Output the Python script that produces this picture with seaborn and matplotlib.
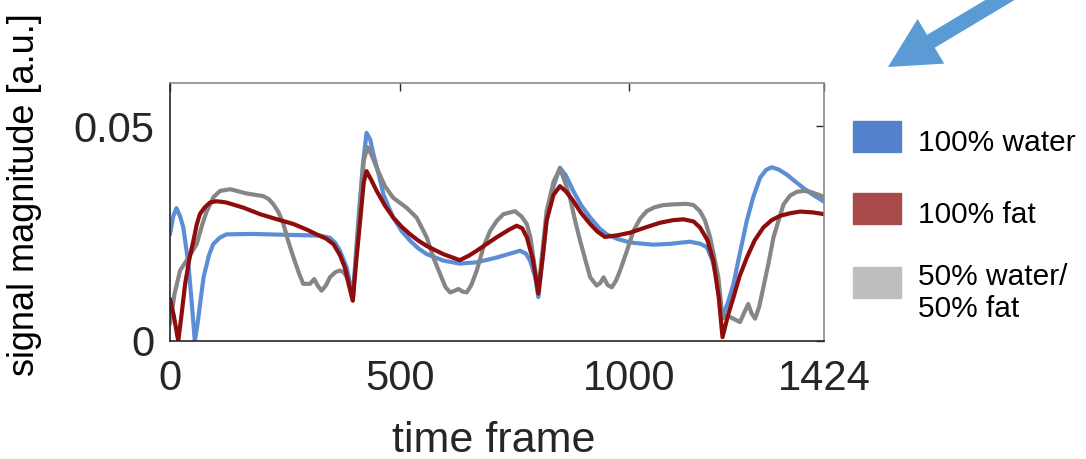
import seaborn as sns
import matplotlib.pyplot as plt
import pandas as pd
from matplotlib.patches import Rectangle, FancyArrow

# values
water_t = [0, 7, 14, 22, 29, 40, 48, 54, 60, 73, 85, 94, 108, 123, 180, 250, 327, 348, 360, 370, 385, 398,
           410, 420, 428, 436, 443, 455, 465, 486, 505, 523, 540, 559, 595, 631, 668, 711, 740, 762, 775,
           784, 795, 802, 812, 820, 835, 849, 862, 878, 895, 915, 935, 951, 975, 1002, 1052, 1090, 1132,
           1155, 1169, 1180, 1190, 1203, 1215, 1227, 1240, 1256, 1270, 1285, 1298, 1310, 1325, 1343, 1360,
           1379, 1400, 1424]
water_v = [0.0248, 0.029, 0.0309, 0.029, 0.0264, 0.018, 0.008, 0.0, 0.004, 0.0148, 0.020, 0.0225, 0.024,
           0.0248, 0.0249, 0.0247, 0.0245, 0.024, 0.0228, 0.021, 0.017, 0.0102,
           0.028, 0.041, 0.0484, 0.0468, 0.0434, 0.0385, 0.034, 0.0287, 0.0255, 0.0233, 0.0216, 0.0202,
           0.0187, 0.018, 0.0183, 0.0194, 0.0203, 0.021, 0.0203,
           0.0187, 0.015, 0.0102, 0.020, 0.028, 0.036, 0.0403, 0.0385, 0.0349, 0.0316, 0.0287, 0.0262,
           0.0248, 0.0237, 0.0229, 0.0224, 0.0226, 0.0231,
           0.0226, 0.0218, 0.019, 0.0148, 0.0056, 0.009, 0.0133, 0.020, 0.028, 0.0335, 0.038, 0.0398,
           0.0404, 0.0399, 0.0387, 0.0372,
           0.0356, 0.034, 0.0324]

fat_t = [0, 8, 18, 25, 33, 42, 51, 58, 65, 75, 87, 100, 110, 123, 160, 196, 230, 269, 300, 319, 340, 356,
         370, 381, 398, 405, 414, 422, 428, 438, 450, 468, 486, 505, 523, 540, 559, 595, 631, 650, 668,
         690, 711, 740, 755, 767, 777, 790, 802, 812, 820, 835, 849, 862, 878, 895, 915, 930, 947, 975,
         1002, 1035, 1067, 1095, 1118, 1140, 1154, 1170, 1183, 1195, 1203, 1215, 1227, 1240, 1256, 1273,
         1292, 1310, 1328, 1350, 1372, 1400, 1424]
fat_v = [0.0098, 0.006, 0.0, 0.006, 0.0133, 0.019, 0.0233, 0.027, 0.0295, 0.031, 0.0322, 0.0325, 0.0324,
         0.0322, 0.031, 0.0295, 0.0284, 0.0272, 0.0258, 0.0248, 0.0238, 0.0225,
         0.020, 0.017, 0.0094, 0.018, 0.028, 0.037, 0.0395, 0.0375, 0.0349, 0.0315, 0.0287, 0.0265,
         0.0248, 0.0234, 0.0221, 0.0202, 0.0188, 0.0198, 0.021,
         0.0226, 0.0241, 0.026, 0.0268, 0.0262, 0.0241, 0.019, 0.011, 0.020, 0.028, 0.034, 0.036, 0.0348,
         0.0326, 0.0298, 0.0272, 0.0255, 0.0242, 0.0246,
         0.0252, 0.0264, 0.0275, 0.0281, 0.0283, 0.0278, 0.0264, 0.0235, 0.0187, 0.010, 0.0009, 0.006,
         0.0102, 0.015, 0.0194, 0.0234,
         0.0264, 0.0281, 0.0291, 0.0297, 0.0301, 0.0299, 0.0295]

mix_t = [0, 10, 22, 36, 58, 70, 80, 95, 109, 131, 167, 203, 215, 225, 236, 247, 258, 269, 280, 290, 305,
         314, 322, 330, 340, 348, 360, 370, 378, 385, 398, 414, 422, 430, 440, 450, 468, 486, 515, 537,
         559, 575, 588, 600, 610, 620, 628, 637, 646, 656, 668, 683, 697, 712, 726, 751, 765, 777, 785, 791,
         802, 812, 820, 835, 849, 860, 871, 882, 893, 904, 915, 929, 937, 944, 953, 962, 971, 980, 995,
         1009, 1024, 1038, 1055, 1074, 1100, 1125, 1140, 1154, 1165, 1176, 1186, 1194, 1203, 1210, 1219,
         1230, 1241, 1252, 1259, 1266, 1274, 1283, 1292, 1303, 1314, 1325, 1336, 1350, 1365, 1380, 1394,
         1410, 1424]
mix_v = [0.004, 0.011, 0.0164, 0.0187, 0.0225, 0.027, 0.0302, 0.0335, 0.0349, 0.0353, 0.0343, 0.0337,
         0.033, 0.0318, 0.030, 0.0272, 0.023, 0.0194, 0.016, 0.0133, 0.0133,
         0.0144, 0.0128, 0.0117, 0.013, 0.0148, 0.016, 0.0164, 0.016, 0.0148, 0.0094, 0.0318, 0.042,
         0.0451, 0.043, 0.0403, 0.036, 0.0333, 0.031, 0.0287,
         0.0241, 0.019, 0.0156, 0.0125, 0.0113, 0.0117, 0.0121, 0.0115, 0.0113, 0.013, 0.0164, 0.022,
         0.0256, 0.028, 0.0295, 0.0302, 0.029, 0.0272, 0.024, 0.0194,
         0.0117, 0.022, 0.0302, 0.037, 0.0401, 0.037, 0.0333, 0.028, 0.0233, 0.019, 0.0148, 0.0129,
         0.0135, 0.0148, 0.013, 0.0125, 0.014, 0.0164, 0.021,
         0.0256, 0.0285, 0.0302, 0.0311, 0.0316, 0.0318, 0.0319, 0.0316, 0.0302, 0.028, 0.0241, 0.019,
         0.0148, 0.0052, 0.0058, 0.0056,
         0.005, 0.0044, 0.007, 0.0086, 0.0065, 0.0052, 0.008, 0.0125, 0.018, 0.0241, 0.028, 0.0318,
         0.0338, 0.0347, 0.0349, 0.0347,
         0.0341, 0.0335]

series = ["100% water", "100% fat", "50% water/\n50% fat"]
line_colors = {"100% water": "#5b8ed6", "100% fat": "#8e0c0c", "50% water/\n50% fat": "#868686"}
patch_colors = ["#5282cc", "#a84a4a", "#bebebe"]

df = pd.concat([
    pd.DataFrame({"t": water_t, "v": water_v, "s": series[0]}),
    pd.DataFrame({"t": mix_t, "v": mix_v, "s": series[2]}),
    pd.DataFrame({"t": fat_t, "v": fat_v, "s": series[1]}),
])

sns.set_theme(style="white")
plt.rcParams["font.family"] = ["Liberation Sans", "DejaVu Sans"]
plt.rcParams["lines.solid_joinstyle"] = "round"
plt.rcParams["lines.solid_capstyle"] = "round"

fig = plt.figure(figsize=(10.86, 4.59), dpi=100)
ax = fig.add_axes([170 / 1086, 1 - 341 / 459, 654 / 1086, (341 - 83) / 459])

sns.lineplot(data=df, x="t", y="v", hue="s", hue_order=[series[0], series[2], series[1]],
             palette=line_colors, estimator=None, sort=False, legend=False, linewidth=3, ax=ax)

ax.set_xlim(0, 1424)
ax.set_ylim(0, 0.06)
ax.set_xticks([0, 500, 1000, 1424])
ax.set_xticklabels(["0", "500", "1000", "1424"])
ax.set_yticks([0, 0.05])
ax.set_yticklabels(["0", "0.05"])
ax.tick_params(axis="both", direction="in", length=6, width=1, color="#262626",
               labelcolor="#262626", labelsize=30)
ax.tick_params(axis="x", pad=13, top=True)
ax.tick_params(axis="y", pad=11, right=True)
for side in ["left", "bottom"]:
    ax.spines[side].set_color("#262626")
for side in ["top", "right"]:
    ax.spines[side].set_color("#8a8a8a")
for sp in ax.spines.values():
    sp.set_linewidth(1.2)

ax.set_xlabel("")
ax.set_ylabel("signal magnitude [a.u.]", fontsize=26, color="#000000")
ax.yaxis.set_label_coords(-0.196, 0.566)
fig.text(494 / 1086, 1 - 452 / 459, "time frame", fontsize=31, color="#262626",
         ha="center", va="baseline")

# legend drawn by hand, outside the axes
patch_tops = [121, 193, 267]
text_ys = [143, 215, 293]
for name, col, top, ty in zip(series, patch_colors, patch_tops, text_ys):
    fig.patches.append(Rectangle((853 / 1086, 1 - (top + 31) / 459), 48 / 1086, 31 / 459,
                                 transform=fig.transFigure, color=col, figure=fig))
    fig.text(918 / 1086, 1 - ty / 459, name, fontsize=21.5, color="black",
             ha="left", va="center", linespacing=1.15)

# arrow in the top right corner
fig.add_artist(FancyArrow(10.35, 4.80, -1.47, -0.88, width=0.15, head_width=0.52, head_length=0.5,
                          length_includes_head=True, color="#5b9bd5", lw=0,
                          transform=fig.dpi_scale_trans))

fig.savefig("out.png", dpi=100)
